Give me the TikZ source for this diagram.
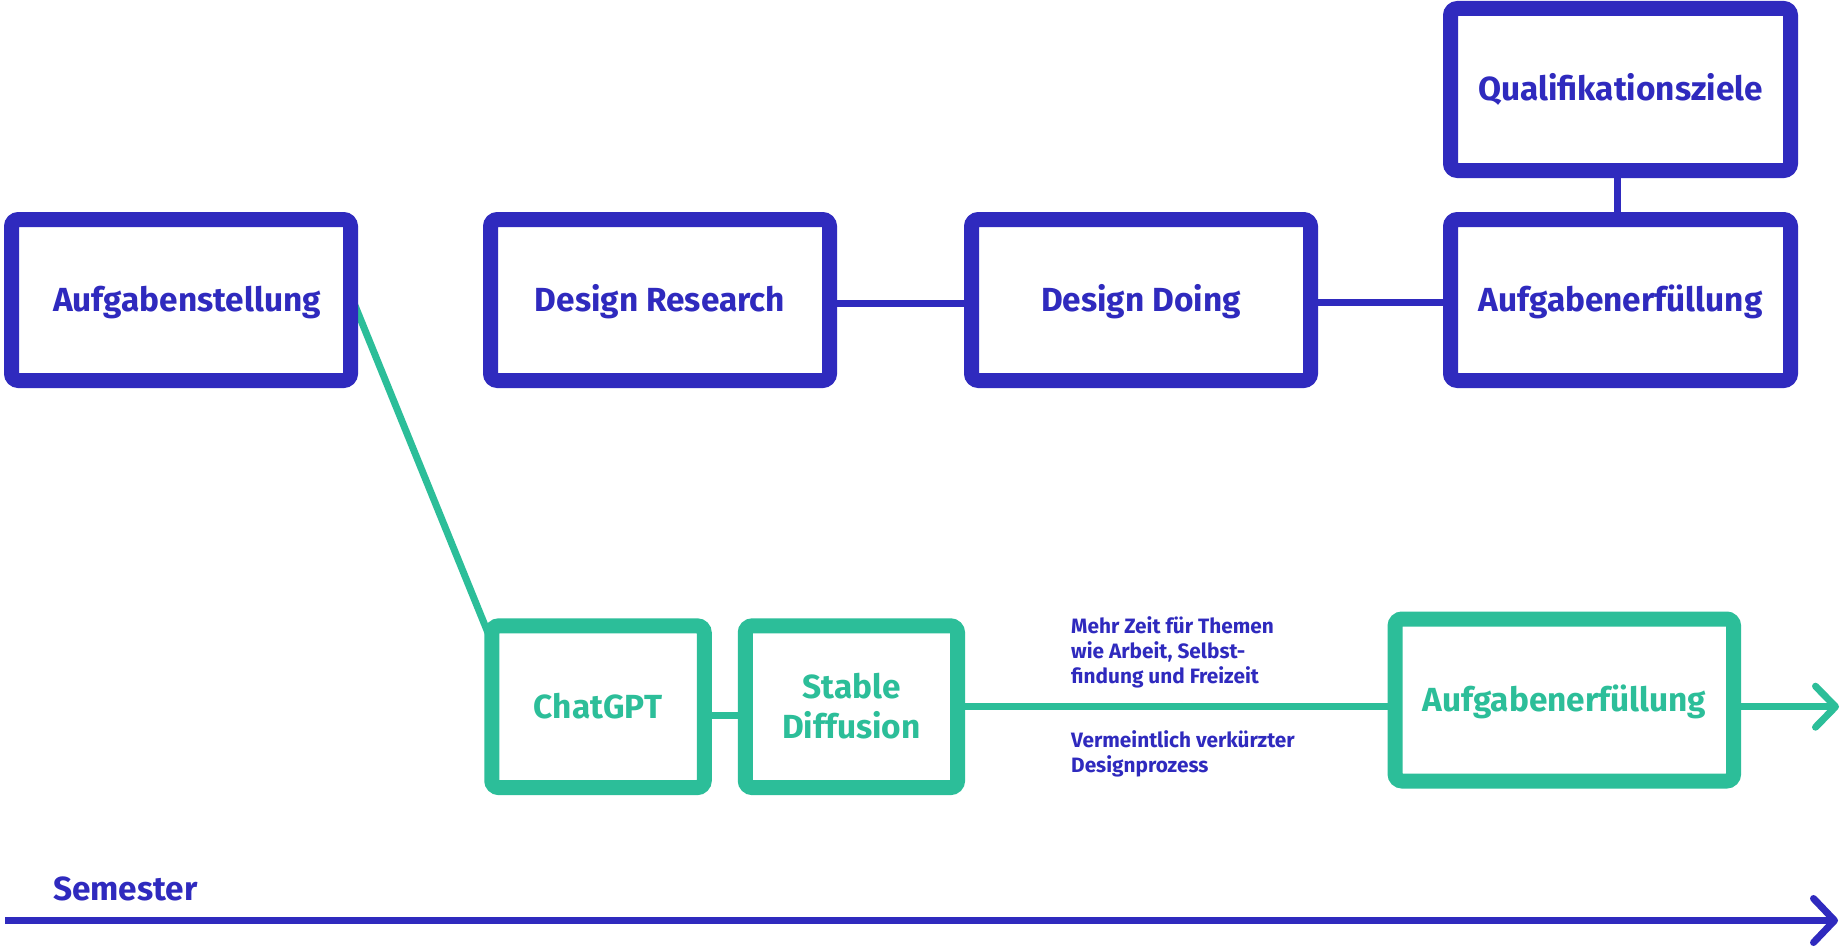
\documentclass[tikz,border=0pt]{standalone}
\usepackage{fontspec}
\setmainfont{Fira Sans}
\usetikzlibrary{backgrounds}
\definecolor{cblue}{RGB}{47,42,190}
\definecolor{cgreen}{RGB}{44,190,153}
\begin{document}
\begin{tikzpicture}[x=1pt,y=-1pt,
  box/.style={draw, line width=15pt, rounded corners=7pt, inner sep=0pt, align=center,
    font=\fontsize{33.4}{40}\selectfont\bfseries, text height=23pt, text depth=0pt},
  bbox/.style={box, draw=cblue, text=cblue},
  gbox/.style={box, draw=cgreen, text=cgreen},
  bline/.style={draw=cblue, line width=7pt},
  gline/.style={draw=cgreen, line width=7pt},
  chev/.style={line cap=round, line join=round},
  note/.style={text=cblue, font=\fontsize{20.8}{25}\selectfont\bfseries, align=left, inner sep=0pt, anchor=base west}
]
\useasboundingbox (0,0) rectangle (1844,947);

% top row
\node[bbox, minimum width=339pt, minimum height=161pt] (auf) at (181,300) {\hspace*{12pt}Aufgabenstellung};
\node[bbox, minimum width=339pt, minimum height=161pt] (dr) at (660,300) {Design Research};
\node[bbox, minimum width=339pt, minimum height=161pt] (dd) at (1141,300) {Design Doing};
\node[bbox, minimum width=340pt, minimum height=161pt] (ae) at (1620.5,300) {Aufgabenerfüllung};
\node[bbox, minimum width=340pt, minimum height=162pt] (qz) at (1620.5,89.5) {Qualifikationsziele};

% bottom row
\node[gbox, minimum width=212.5pt, minimum height=161.7pt] (cg) at (598,706.7) {ChatGPT};
\node[gbox, minimum width=212.3pt, minimum height=161.7pt, text height=63pt] (sd) at (851.4,706.7) {Stable\\Diffusion};
\node[gbox, minimum width=338.5pt, minimum height=162pt] (ag) at (1564.3,700) {Aufgabenerfüllung};

\coordinate (gt) at (1835.5,706.7);
\coordinate (s0) at (5,920.5);
\coordinate (st) at (1834.5,920.5);

\begin{scope}[on background layer]
\fill[white] (0,0) rectangle (1844,947);
\draw[bline] ([yshift=-3pt]dr.east) -- ([yshift=-3pt]dd.west);
\draw[bline] ([yshift=-2pt]dd.east) -- ([yshift=-2pt]ae.west);
\draw[bline] ([xshift=-3pt]qz.south) -- ([xshift=-3pt]ae.north);
\draw[gline] ([xshift=-7.5pt,yshift=5.5pt]auf.east) -- ([xshift=6pt,yshift=-20pt]cg.north west);
\draw[gline] ([yshift=-9pt]cg.east) -- ([yshift=-9pt]sd.west);
\draw[gline] (sd.east) -- (sd.east -| ag.west);
\end{scope}

\draw[gline] (sd.east -| ag.east) -- (gt);
\draw[gline, chev] ([shift={(-20,-20.5)}]gt) -- (gt) -- ([shift={(-20,20.5)}]gt);
\draw[bline] (s0) -- (st);
\draw[bline, chev] ([shift={(-21,-22)}]st) -- (st) -- ([shift={(-21,22)}]st);

\node[text=cblue, font=\fontsize{33.4}{40}\selectfont\bfseries, anchor=base west, inner sep=0pt] (sem) at (53,900) {Semester};
\node[note] (n1) at (1071,683.3) {Mehr Zeit für Themen\\wie Arbeit, Selbst-\\findung und Freizeit};
\node[note] (n2) at (1071,772.7) {Vermeintlich verkürzter\\Designprozess};
\end{tikzpicture}
\end{document}
